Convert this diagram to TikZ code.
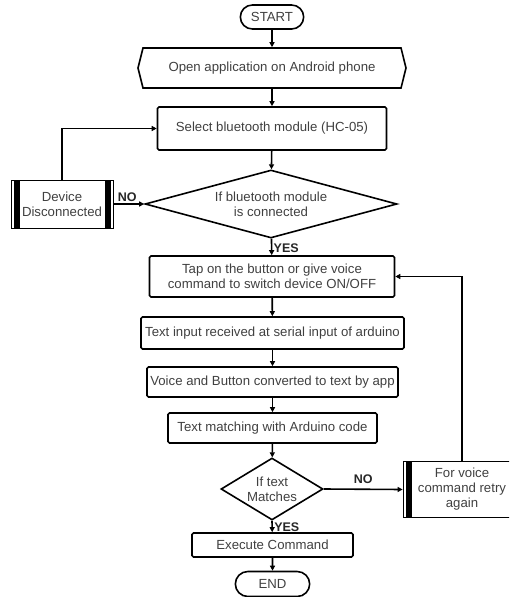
\documentclass[tikz,border=0pt]{standalone}
\usepackage{fontspec}
\setmainfont{Liberation Sans}
\usetikzlibrary{shapes.geometric, shapes.misc, shapes.symbols, arrows.meta, positioning}

\definecolor{inkgrey}{RGB}{64, 64, 64}

\tikzset{
    every node/.style={font=\fontsize{13.2}{15}\selectfont, text=inkgrey},
    flowline/.style={line width=1.6pt, -{Triangle[length=5pt, width=5pt]}},
    termbox/.style={rounded rectangle, draw, line width=1.6pt, minimum height=24pt},
    prepbox/.style={signal, signal to=west and east, signal pointer angle=152,
                    draw, line width=1.6pt, minimum width=268pt, minimum height=40pt},
    procbox/.style={rectangle, draw, line width=1.6pt, rounded corners=1.5pt,
                    align=center, inner sep=1pt},
    decision/.style={diamond, draw, line width=1.6pt, align=center, inner sep=0pt},
    sidebox/.style={rectangle, draw, line width=0.8pt, align=center, inner sep=1pt},
    leftbar/.style={path picture={\fill[black]
        ([xshift=2.5pt]path picture bounding box.north west) rectangle
        ([xshift=8.5pt]path picture bounding box.south west);}},
    bothbars/.style={path picture={\fill[black]
        ([xshift=2.5pt]path picture bounding box.north west) rectangle
        ([xshift=8.5pt]path picture bounding box.south west);
        \fill[black]
        ([xshift=-2.5pt]path picture bounding box.north east) rectangle
        ([xshift=-8.5pt]path picture bounding box.south east);}},
    answer/.style={font=\bfseries\fontsize{12.5}{14}\selectfont, text=black!85}
}

\begin{document}
\begin{tikzpicture}[x=1pt, y=-1pt]
    \clip (0, 0) rectangle (509, 597);

    % Main column
    \node[termbox, minimum width=70pt] (start) at (272, 17) {START};
    \node[prepbox] (openapp) at (272, 68) {Open application on Android phone};
    \node[procbox, minimum width=229pt, minimum height=43pt] (select) at (272, 128.5) {Select bluetooth module (HC-05)};
    \node[decision, aspect=3.7, minimum width=252pt, minimum height=68pt] (btcheck) at (271, 204) {If bluetooth module\\is connected};
    \node[procbox, minimum width=245pt, minimum height=41pt] (tap) at (272, 276.5) {Tap on the button or give voice\\command to switch device ON/OFF};
    \node[procbox, minimum width=263pt, minimum height=32pt] (serial) at (272.5, 333) {Text input received at serial input of arduino};
    \node[procbox, minimum width=251pt, minimum height=30pt] (convert) at (272.5, 382) {Voice and Button converted to text by app};
    \node[procbox, minimum width=209pt, minimum height=30pt] (match) at (272.5, 428) {Text matching with Arduino code};
    \node[decision, aspect=1.65, minimum width=102pt, minimum height=62pt] (txtcheck) at (272, 489) {If text\\Matches};
    \node[procbox, minimum width=161pt, minimum height=24pt] (exec) at (272.5, 545) {Execute Command};
    \node[termbox, minimum width=81pt, minimum height=25pt] (finish) at (272.5, 584) {END};

    % Side boxes
    \node[sidebox, bothbars, minimum width=102pt, minimum height=48pt] (devoff) at (62, 204) {Device\\Disconnected};
    \node[sidebox, leftbar, minimum width=112pt, minimum height=56pt] (retry) at (459, 489.5) {\hspace*{6pt}For voice\\\hspace*{6pt}command retry\\\hspace*{6pt}again};

    % Connectors
    \draw[flowline] (start) -- (openapp);
    \draw[flowline] (openapp) -- (select);
    \draw[flowline] (select) -- (btcheck);
    \draw[flowline] (btcheck) -- node[answer, right, xshift=-2pt, yshift=-1pt] {YES} (tap);
    \draw[flowline] (devoff) -- node[answer, above, pos=0.45, yshift=-2pt] {NO} (btcheck.west);
    \draw[flowline] (devoff.north) |- (select.west);
    \draw[flowline] (tap) -- (serial);
    \draw[flowline] (serial) -- (convert);
    \draw[flowline] (convert) -- (match);
    \draw[flowline] (match) -- (txtcheck);
    \draw[flowline] (txtcheck.east) -- node[answer, above, yshift=2pt] {NO} (retry.west);
    \draw[flowline] ([xshift=3pt]retry.north) |- (tap.east);
    \draw[flowline] (txtcheck.south) -- node[answer, right, xshift=-2pt, yshift=-1pt] {YES} (exec);
    \draw[flowline] (exec) -- (finish);
\end{tikzpicture}
\end{document}
